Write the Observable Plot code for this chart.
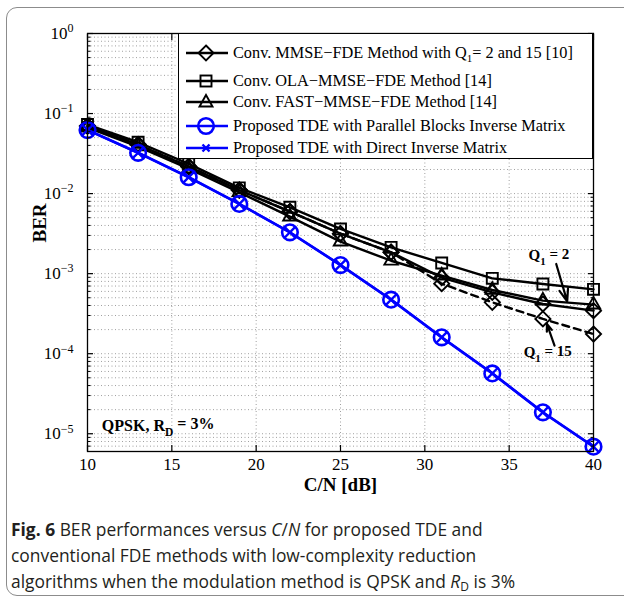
<!DOCTYPE html>
<html><head><meta charset="utf-8">
<script src="https://cdn.jsdelivr.net/npm/d3@7"></script>
<script src="https://cdn.jsdelivr.net/npm/@observablehq/plot@0.6"></script>
<style>
body{margin:0;background:#fff;}
#page{position:relative;width:624px;height:597px;overflow:hidden;background:#fff;}
#frame{position:absolute;left:6px;top:7px;width:700px;height:587px;border:1.5px solid #8c8c8c;border-radius:11px;}
#chart{position:absolute;left:0;top:0;}
#legend{position:absolute;left:178px;top:33px;width:415px;height:126px;border:1px solid #000;background:#fff;font-family:"Liberation Serif",serif;font-size:16.3px;color:#000;box-sizing:border-box;}
.row{position:absolute;left:6px;height:22px;display:flex;align-items:center;white-space:nowrap;}
.row svg{margin-right:4px;}
.row sub{font-size:11px;vertical-align:-4px;line-height:0;}
#caption{position:absolute;left:11px;top:516px;font-family:"Open Sans",sans-serif;font-size:17.4px;line-height:26px;color:#231f20;white-space:nowrap;}
#caption sub{font-size:12px;vertical-align:-3px;line-height:0;font-style:normal;}
</style>
</head><body>
<div id="page">
  <div id="frame"></div>
  <div id="chart"></div>
  <div id="legend"></div>
  <div id="caption"><b>Fig. 6</b> BER performances versus <i>C</i>/<i>N</i> for proposed TDE and<br>conventional FDE methods with low-complexity reduction<br>algorithms when the modulation method is QPSK and <i>R</i><sub>D</sub> is 3%</div>
</div>
<script>
// ---- data ----
const cn = [10, 13, 16, 19, 22, 25, 28, 31, 34, 37, 40];
const berMmseQ2  = [0.0698, 0.0410, 0.0218, 0.01106, 0.00596, 0.00316, 0.00185, 8.9e-4, 5.84e-4, 4.18e-4, 3.45e-4];
const berMmseQ15 = [0.0698, 0.0410, 0.0218, 0.01106, 0.00596, 0.00316, 0.00185, 7.5e-4, 4.38e-4, 2.72e-4, 1.76e-4];
const berOla     = [0.0729, 0.0438, 0.0235, 0.0118, 0.00674, 0.00362, 0.00213, 0.00136, 8.74e-4, 7.43e-4, 6.37e-4];
const berFast    = [0.0668, 0.0387, 0.0205, 0.01038, 0.00516, 0.00251, 0.00145, 9.44e-4, 6.25e-4, 4.6e-4, 4.1e-4];
const berTdeParallel = [0.0622, 0.0323, 0.0160, 0.00743, 0.00328, 0.00128, 4.73e-4, 1.6e-4, 5.67e-5, 1.85e-5, 6.9e-6];
const berTdeDirect   = [0.0622, 0.0323, 0.0160, 0.00743, 0.00328, 0.00128, 4.73e-4, 1.6e-4, 5.67e-5, 1.85e-5, 6.9e-6];

const legendLabels = [
  "Conv. MMSE\u2212FDE Method with Q<sub>1</sub>= 2 and 15 [10]",
  "Conv. OLA\u2212MMSE\u2212FDE Method [14]",
  "Conv. FAST\u2212MMSE\u2212FDE Method [14]",
  "Proposed TDE with Parallel Blocks Inverse Matrix",
  "Proposed TDE with Direct Inverse Matrix"
];
const xTicks = [10, 15, 20, 25, 30, 35, 40];
const yMajor = [1e-5, 1e-4, 1e-3, 1e-2, 1e-1, 1];
const xLabel = "C/N [dB]";
const yLabel = "BER";

// annotations
const notes = [
  {x: 10.85, y: 1.25e-5, text: "QPSK, R_D = 3%", size: 16},
  {x: 36.15, y: 1.68e-3, text: "Q_1 = 2", size: 15},
  {x: 35.86, y: 1.03e-4, text: "Q_1 = 15", size: 15}
];
const arrows = [
  {x1: 37.79, y1: 1.32e-3, x2: 38.44, y2: 4.5e-4},
  {x1: 37.69, y1: 1.26e-4, x2: 37.24, y2: 2.35e-4}
];

// ---- build tables ----
const toRows = arr => cn.map((x, i) => ({x, y: arr[i]}));
const yMinor = [];
for (let e = -6; e < 0; e++) for (let m = 2; m <= 9; m++) { const v = m * Math.pow(10, e); if (v >= 6e-6 && v < 1) yMinor.push(v); }
const yAll = yMinor.concat(yMajor);

const blue = "#0000ff";
const gridStyle = {stroke: "#a0a0a0", strokeOpacity: 1, strokeWidth: 1, strokeDasharray: "1,2.5"};
const lw = 2.4, mw = 1.9;

const chart = Plot.plot({
  width: 624, height: 500,
  marginLeft: 87, marginRight: 31, marginTop: 33, marginBottom: 49,
  style: {fontFamily: "'Liberation Serif', serif", fontSize: "17px", color: "#000", background: "transparent"},
  x: {domain: [10, 40]},
  y: {type: "log", domain: [6e-6, 1]},
  marks: [
    Plot.gridY(yAll, gridStyle),
    Plot.gridX([15, 20, 25, 30, 35], gridStyle),
    Plot.line(toRows(berOla), {x: "x", y: "y", stroke: "#000", strokeWidth: lw}),
    Plot.line(toRows(berFast), {x: "x", y: "y", stroke: "#000", strokeWidth: lw}),
    Plot.line(toRows(berMmseQ15), {x: "x", y: "y", stroke: "#000", strokeWidth: lw, strokeDasharray: "7,5"}),
    Plot.line(toRows(berMmseQ2), {x: "x", y: "y", stroke: "#000", strokeWidth: lw}),
    Plot.dot(toRows(berOla), {x: "x", y: "y", symbol: "square", r: 6.2, stroke: "#000", strokeWidth: mw, fill: "none"}),
    Plot.dot(toRows(berFast), {x: "x", y: "y", symbol: "triangle2", r: 6.4, stroke: "#000", strokeWidth: mw, fill: "none"}),
    Plot.dot(toRows(berMmseQ15), {x: "x", y: "y", symbol: "diamond2", r: 6.8, stroke: "#000", strokeWidth: mw, fill: "none"}),
    Plot.dot(toRows(berMmseQ2), {x: "x", y: "y", symbol: "diamond2", r: 6.8, stroke: "#000", strokeWidth: mw, fill: "none"}),
    Plot.line(toRows(berTdeParallel), {x: "x", y: "y", stroke: blue, strokeWidth: 2.7}),
    Plot.line(toRows(berTdeDirect), {x: "x", y: "y", stroke: blue, strokeWidth: 2.3}),
    Plot.dot(toRows(berTdeParallel), {x: "x", y: "y", symbol: "circle", r: 7.8, stroke: blue, strokeWidth: 2.6, fill: "none"}),
    Plot.dot(toRows(berTdeDirect), {x: "x", y: "y", symbol: "times", r: 5.2, stroke: blue, strokeWidth: 2.4, fill: "none"}),
    Plot.arrow(arrows, {x1: "x1", y1: "y1", x2: "x2", y2: "y2", stroke: "#000", strokeWidth: 2.2, headLength: 10, headAngle: 40}),
    Plot.text(notes, {x: "x", y: "y", text: "text", textAnchor: "start", lineAnchor: "middle", fontWeight: "bold", fontSize: d => d.size}),
    Plot.frame({stroke: "#000", strokeWidth: 1.3}),
    // axes: inward ticks
    Plot.axisX(xTicks, {anchor: "bottom", tickSize: -6, text: null, strokeWidth: 1.2}),
    Plot.axisX(xTicks, {anchor: "top", tickSize: -6, text: null, strokeWidth: 1.2}),
    Plot.axisX(xTicks, {anchor: "bottom", tickSize: 0, tickPadding: 6, fontSize: 17, label: null}),
    Plot.axisY(yMajor, {anchor: "left", tickSize: -6, text: null, strokeWidth: 1.2}),
    Plot.axisY(yMajor, {anchor: "right", tickSize: -6, text: null, strokeWidth: 1.2}),
    Plot.axisY(yMinor, {anchor: "left", tickSize: -3.5, text: null, strokeWidth: 1}),
    Plot.axisY(yMinor, {anchor: "right", tickSize: -3.5, text: null, strokeWidth: 1}),
    Plot.axisY(yMajor, {anchor: "left", tickSize: 0, tickPadding: 14, fontSize: 17, label: null,
      tickFormat: d => "10^" + Math.round(Math.log10(d))}),
    Plot.text([xLabel], {frameAnchor: "bottom", dy: 33, lineAnchor: "middle", fontWeight: "bold", fontSize: 19}),
    Plot.text([yLabel], {frameAnchor: "left", dx: -48, rotate: -90, lineAnchor: "middle", fontWeight: "bold", fontSize: 19})
  ]
});
document.getElementById("chart").appendChild(chart);

// superscripts on y tick labels, subscripts in annotations
d3.select(chart).selectAll("text").each(function () {
  const t = this.textContent || "";
  const s = d3.select(this);
  let m = t.match(/^(.*)\^(.+)$/);
  if (m) {
    s.text(null);
    s.append("tspan").text(m[1]);
    s.append("tspan").attr("dy", "-0.55em").attr("font-size", "12px").text(m[2].replace(/[-\u2212]/, "\u2212"));
    return;
  }
  m = t.match(/^(.*)_(.)(.*)$/);
  if (m) {
    s.text(null);
    s.append("tspan").text(m[1]);
    s.append("tspan").attr("dy", "0.45em").attr("font-size", "0.72em").text(m[2]);
    s.append("tspan").attr("dy", "-0.45em").text(m[3]);
  }
});

// legend (HTML overlay)
const rowTops = [52, 80, 101, 125, 147];
const legendSyms = [
  {stroke: "#000", sym: "diamond"}, {stroke: "#000", sym: "square"}, {stroke: "#000", sym: "triangle"},
  {stroke: blue, sym: "circle"}, {stroke: blue, sym: "times"}
];
const leg = document.getElementById("legend");
legendLabels.forEach((lab, i) => {
  const row = document.createElement("div");
  row.className = "row";
  row.style.top = (rowTops[i] - 33 - 11) + "px";
  const c = legendSyms[i];
  let mk = "";
  if (c.sym === "diamond") mk = `<path d="M21,3.5 L28.5,11 L21,18.5 L13.5,11 Z" fill="none" stroke="#000" stroke-width="${mw}"/>`;
  if (c.sym === "square") mk = `<rect x="15.5" y="5.5" width="11" height="11" fill="none" stroke="#000" stroke-width="${mw}"/>`;
  if (c.sym === "triangle") mk = `<path d="M21,4 L27.5,15.5 L14.5,15.5 Z" fill="none" stroke="#000" stroke-width="${mw}"/>`;
  if (c.sym === "circle") mk = `<circle cx="21" cy="11" r="7.8" fill="none" stroke="${blue}" stroke-width="2.6"/>`;
  if (c.sym === "times") mk = `<path d="M17.5,7.5 L24.5,14.5 M24.5,7.5 L17.5,14.5" stroke="${blue}" stroke-width="2.4"/>`;
  const sw = c.stroke === blue ? 2.7 : lw;
  row.innerHTML = `<svg width="44" height="22"><line x1="1" y1="11" x2="43" y2="11" stroke="${c.stroke}" stroke-width="${sw}"/>${mk}</svg><span>${lab}</span>`;
  leg.appendChild(row);
});
</script>
</body></html>
